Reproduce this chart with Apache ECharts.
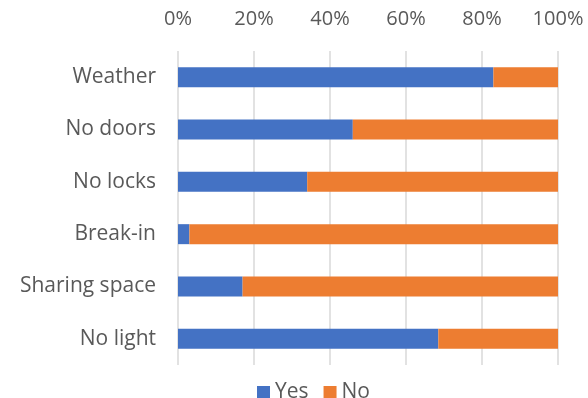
<!DOCTYPE html>
<html>
<head>
<meta charset="utf-8">
<script src="https://cdn.jsdelivr.net/npm/echarts@6/dist/echarts.min.js"></script>
<style>
  html, body { margin: 0; padding: 0; background: #fff; }
  #chart { width: 588px; height: 398px; }
</style>
</head>
<body>
<div id="chart"></div>
<script>
// Share of responses per concern (percent)
const categories = ['Weather', 'No doors', 'No locks', 'Break-in', 'Sharing space', 'No light'];
const yesValues = [83, 46, 34, 3, 17, 68.5];
const noValues = [17, 54, 66, 97, 83, 31.5];
const seriesNames = ['Yes', 'No'];

const textColor = '#595959';
const fontFamily = '"Open Sans", "Noto Sans", sans-serif';

const chart = echarts.init(document.getElementById('chart'), null, { renderer: 'canvas' });

chart.setOption({
  animation: false,
  textStyle: { fontFamily: fontFamily },
  grid: { left: 178, right: 30, top: 51, bottom: 33, containLabel: false },
  legend: {
    data: seriesNames,
    top: 377,
    left: 252,
    itemWidth: 13,
    itemHeight: 13,
    itemGap: 15,
    icon: 'rect',
    textStyle: { fontSize: 21, color: textColor, fontFamily: fontFamily }
  },
  xAxis: {
    type: 'value',
    position: 'top',
    min: 0,
    max: 100,
    interval: 20,
    axisLine: { show: false },
    axisTick: { show: false },
    axisLabel: {
      formatter: '{value}%',
      fontSize: 20,
      color: textColor,
      margin: 22,
      fontFamily: fontFamily
    },
    splitLine: { show: true, lineStyle: { color: '#d9d9d9', width: 1.5 } }
  },
  yAxis: {
    type: 'category',
    data: categories,
    inverse: true,
    axisLine: { show: false },
    axisTick: { show: false },
    axisLabel: { fontSize: 21, color: textColor, margin: 22, fontFamily: fontFamily }
  },
  series: [
    {
      name: seriesNames[0],
      type: 'bar',
      stack: 'total',
      barWidth: 20,
      data: yesValues,
      itemStyle: { color: '#4472C4' }
    },
    {
      name: seriesNames[1],
      type: 'bar',
      stack: 'total',
      barWidth: 20,
      data: noValues,
      itemStyle: { color: '#ED7D31' }
    }
  ]
});
</script>
</body>
</html>
